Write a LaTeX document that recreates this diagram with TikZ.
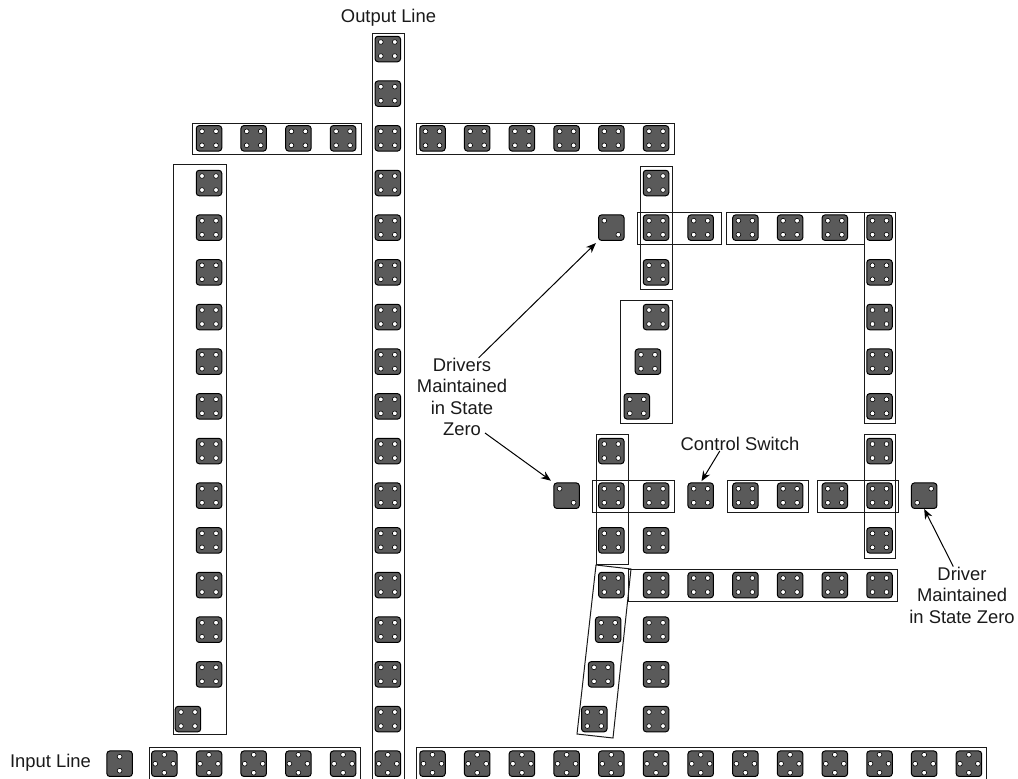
\documentclass[tikz,border=0pt]{standalone}
\usepackage{fontspec}
\setmainfont{Liberation Sans}
\usetikzlibrary{arrows.meta}
\definecolor{chipGray}{HTML}{5A5A5A}
\definecolor{boxInk}{HTML}{1A1A1A}
\newcommand{\holes}[1]{\foreach \hx/\hy in {#1}
  \draw[hole] ([shift={(\hx pt,\hy pt)}]path picture bounding box.center) circle (2.4pt);}
\tikzset{
  % Small hole in a chip
  hole/.style={draw=black,fill=white,line width=0.6pt,sharp corners},
  % Chip, without holes
  chip/.style={rectangle,rounded corners=3pt,minimum size=25.5pt,inner sep=0pt,
    draw=black,line width=1pt,fill=chipGray},
  % Hole patterns
  cornerchip/.style={chip,path picture={\holes{-7/-7,7/-7,-7/7,7/7}}},
  diamondchip/.style={chip,path picture={\holes{0/9,9/0,0/-9,-9/0}}},
  inputchip/.style={chip,path picture={\holes{0/7,0/-7}}},
  fallchip/.style={chip,path picture={\holes{-7/7,7/-7}}},
  risechip/.style={chip,path picture={\holes{7/7,-7/-7}}},
  % Outline round a group of chips
  groupbox/.style={draw=boxInk,line width=1pt},
  % Labels and arrows
  lbl/.style={inner sep=0pt,align=center,text=boxInk,font=\fontsize{18.4}{21.5}\selectfont},
  arr/.style={-{Stealth[length=10pt,width=8pt]},line width=1pt,color=black},
}
\begin{document}
\begin{tikzpicture}[x=1pt,y=-1pt]
  \useasboundingbox (0,0) rectangle (1018,779);

  %% --- GROUP OUTLINES ---
  \draw[groupbox] (372,33) rectangle (404,780);
  \draw[groupbox] (192,123) rectangle (361,154);
  \draw[groupbox] (416,123) rectangle (674,154);
  \draw[groupbox] (173,164) rectangle (226,734);
  \draw[groupbox] (149,747) rectangle (360,779);
  \draw[groupbox] (416,747) rectangle (986,779);
  \draw[groupbox] (640,166) rectangle (672,289);
  \draw[groupbox] (637,212) rectangle (721,244);
  \draw[groupbox] (726,212) rectangle (864,244);
  \draw[groupbox] (864,212) rectangle (895,423);
  \draw[groupbox] (620,300) rectangle (672,423);
  \draw[groupbox] (596,434) rectangle (628,564);
  \draw[groupbox] (592,480) rectangle (674,512);
  \draw[groupbox] (727,480) rectangle (808,512);
  \draw[groupbox] (817,480) rectangle (898,512);
  \draw[groupbox] (864,434) rectangle (895,558);
  \draw[groupbox] (628,569) rectangle (897,601);
  \draw[groupbox] (596,565) -- (631,569) -- (613,738) -- (577,734) -- cycle;

  %% --- CHIPS, on the column/row grid ---
  \begin{scope}[shift={(209,49)},x=44.7pt,y=-44.67pt]
    % Output line
    \foreach \r in {0,...,15} \node[cornerchip] (out\r) at (4,\r) {};
    \node[diamondchip] (outEnd) at (4,16) {};

    % Input line
    \node[inputchip] (inFirst) at (-2,16) {};
    \foreach \c in {-1,0,1,2,3,5,6,7,8,9,10,11,12,13,14,15,16,17}
      \node[diamondchip] (in\c) at (\c,16) {};

    % Top row
    \foreach \c in {0,1,2,3,5,6,7,8,9,10} \node[cornerchip] (top\c) at (\c,2) {};

    % Long column on the left
    \foreach \r in {3,...,14} \node[cornerchip] (left\r) at (0,\r) {};
    \node[cornerchip] (leftEnd) at (-0.47,15) {};

    % Upper square
    \foreach \r in {3,4,5} \node[cornerchip] (upA\r) at (10,\r) {};
    \foreach \c in {11,12,13,14} \node[cornerchip] (upB\c) at (\c,4) {};
    \foreach \r in {4,...,8} \node[cornerchip] (upC\r) at (15,\r) {};
    \node[cornerchip] (bendA) at (10,6) {};
    \node[cornerchip] (bendB) at (9.82,7) {};
    \node[cornerchip] (bendC) at (9.57,8) {};

    % Lower square
    \foreach \r in {9,10,11} \node[cornerchip] (lowA\r) at (9,\r) {};
    \foreach \r in {10,...,15} \node[cornerchip] (lowB\r) at (10,\r) {};
    \foreach \c in {12,13,14} \node[cornerchip] (lowC\c) at (\c,10) {};
    \foreach \r in {9,10,11} \node[cornerchip] (lowD\r) at (15,\r) {};
    \foreach \c in {11,...,15} \node[cornerchip] (lowE\c) at (\c,12) {};
    \node[cornerchip] (swCtl) at (11,10) {};

    % Slanted column
    \node[cornerchip] (slantA) at (9,12) {};
    \node[cornerchip] (slantB) at (8.93,13) {};
    \node[cornerchip] (slantC) at (8.77,14) {};
    \node[cornerchip] (slantD) at (8.62,15) {};

    % Drivers
    \node[fallchip] (drvTop) at (9,4) {};
    \node[fallchip] (drvLow) at (8,10) {};
    \node[risechip] (drvRight) at (16,10) {};
  \end{scope}

  %% --- LABELS ---
  \node[lbl] (lblOut) at (388.5,18) {Output Line};
  \node[lbl] (lblIn) at (50.5,763) {Input Line};
  \node[lbl] (lblSwitch) at (740,444) {Control Switch};
  \node[lbl] (lblDrivers) at (462,397) {Drivers\\Maintained\\in State\\Zero};
  \node[lbl] (lblDriver) at (962,595) {Driver\\Maintained\\in State Zero};

  \coordinate (zeroEnd) at (485,433);

  \draw[arr,shorten >=3pt] (lblDrivers.67) -- (drvTop.south west);
  \draw[arr,shorten >=3pt] (zeroEnd) -- (drvLow.north west);
  \draw[arr,shorten >=1.5pt] (lblSwitch.199) -- (swCtl.north);
  \draw[arr] (lblDriver.107) -- (drvRight.south);
\end{tikzpicture}
\end{document}
